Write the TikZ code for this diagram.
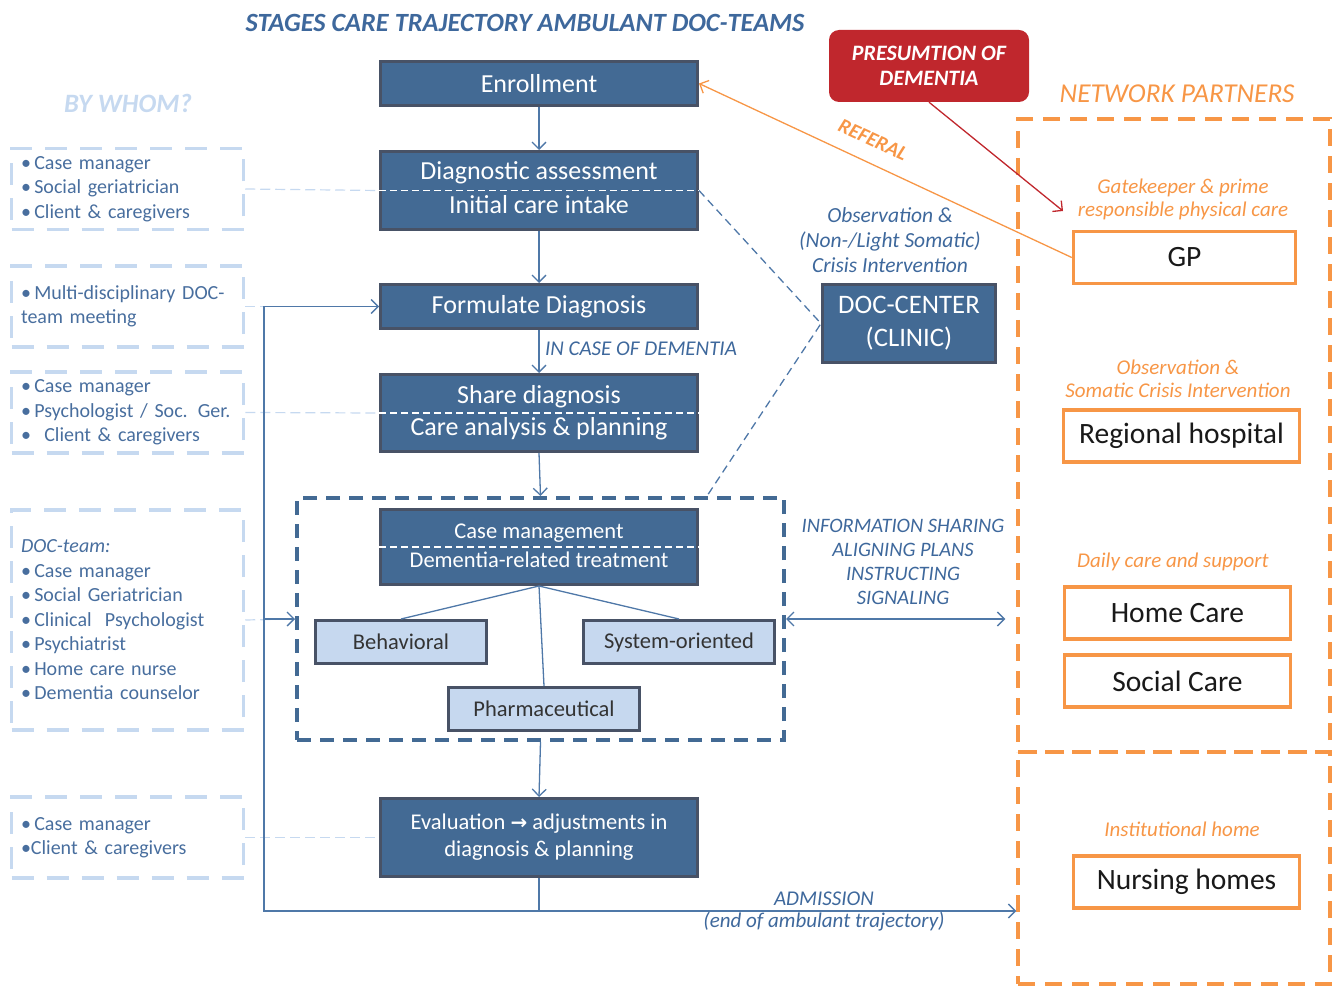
\documentclass[tikz,border=0pt]{standalone}
\usepackage{fontspec}
\setmainfont{Carlito}
\newfontfamily\symfont{DejaVu Sans}
\usetikzlibrary{arrows.meta,calc}
\definecolor{stageblue}{RGB}{67,106,148}
\definecolor{bordergray}{RGB}{72,82,102}
\definecolor{lineblue}{RGB}{79,120,168}
\definecolor{textblue}{RGB}{62,104,156}
\definecolor{leftblue}{RGB}{72,110,158}
\definecolor{paleblue}{RGB}{198,217,240}
\definecolor{subblue}{RGB}{198,216,239}
\definecolor{orng}{RGB}{247,150,70}
\definecolor{redbox}{RGB}{192,39,45}
\begin{document}
\begin{tikzpicture}[x=1pt,y=-1pt,
  stage/.style={draw=bordergray,line width=3pt,fill=stageblue,text=white,minimum width=317pt,inner sep=0pt,font=\fontsize{26}{31}\selectfont},
  stagetxt/.style={text=white,inner sep=0pt,font=\fontsize{26}{31}\selectfont},
  subbox/.style={draw=bordergray,line width=3pt,fill=subblue,text=black!80,inner sep=0pt,minimum height=43pt,font=\fontsize{22.5}{26}\selectfont},
  whom/.style={draw=paleblue,line width=3.5pt,dash pattern=on 22pt off 13pt,text=leftblue,align=left,text width=213pt,inner sep=0pt,minimum width=232pt,font=\fontsize{20}{24.5}\selectfont},
  partner/.style={draw=orng,line width=3.5pt,fill=white,text=black!90,minimum height=52pt,inner sep=0pt,font=\fontsize{29.5}{33}\selectfont},
  olabel/.style={text=orng,inner sep=0pt,font=\itshape\fontsize{21}{23.5}\selectfont,align=center},
  blabel/.style={text=textblue,inner sep=0pt,font=\itshape\fontsize{21}{24.5}\selectfont,align=center},
  conn/.style={draw=lineblue,line width=1.3pt},
  arr/.style={conn,-{Straight Barb[length=7pt,width=14pt]}},
  innerdash/.style={draw=white,line width=1.2pt,dash pattern=on 7pt off 4pt},
  lightdash/.style={draw=paleblue,line width=1.2pt,dash pattern=on 10pt off 5pt},
]
\useasboundingbox (0,0) rectangle (1334,987);

% titles
\node[text=textblue,font=\bfseries\itshape\fontsize{26.3}{30}\selectfont] (title) at (525,23) {STAGES CARE TRAJECTORY AMBULANT DOC-TEAMS};
\node[text=paleblue,font=\bfseries\itshape\fontsize{26.5}{30}\selectfont] (bywhom) at (128,103) {BY WHOM?};
\node[text=orng,font=\itshape\fontsize{27.3}{30}\selectfont] (netpart) at (1177,94) {NETWORK PARTNERS};

% left "by whom" boxes
\node[whom,minimum height=81pt] (w1) at (127.5,189) {•\,Case manager\\•\,Social geriatrician\\•\,Client \& caregivers};
\node[whom,minimum height=81pt] (w2) at (127.5,306.5) {•\,Multi-disciplinary DOC-\\team meeting};
\node[whom,minimum height=81pt] (w3) at (127.5,412.5) {•\,Case manager\\•\,Psychologist / Soc. Ger.\\•\ \ Client \& caregivers};
\node[whom,minimum height=220pt] (w4) at (127.5,620) {\textit{DOC-team:}\\•\,Case manager\\•\,Social Geriatrician\\•\,Clinical\ \ Psychologist\\•\,Psychiatrist\\•\,Home care nurse\\•\,Dementia counselor};
\node[whom,minimum height=81pt] (w5) at (127.5,837.5) {•\,Case manager\\•Client \& caregivers};

% stage boxes
\node[stage,minimum height=44pt] (enroll) at (539,83.5) {Enrollment};
\node[stage,minimum height=78pt] (diag) at (539,190.5) {};
\node[stage,minimum height=44pt] (form) at (539,306.5) {Formulate Diagnosis};
\node[stage,minimum height=77pt] (share) at (539,413) {};
\node[stage,minimum height=78pt] (evalb) at (539,837.5) {};

% outer dashed treatment box
\node[draw=stageblue,line width=4pt,dash pattern=on 14pt off 9pt,minimum width=487pt,minimum height=242pt,inner sep=0pt] (dbox) at (540.5,619) {};
\node[stage,minimum height=75pt] (cm) at (539,547) {};
\node[subbox,minimum width=171pt] (behav) at (401,642) {Behavioral};
\node[subbox,minimum width=191pt] (syst) at (679,642) {System-oriented};
\node[subbox,minimum width=191pt] (pharm) at (544,709) {Pharmaceutical};

% split lines and texts
\draw[innerdash] (diag.west) -- (diag.east);
\node[stagetxt] (diagA) at (539,173) {Diagnostic assessment};
\node[stagetxt] (diagB) at (539,205) {Initial care intake};
\draw[innerdash] (share.west) -- (share.east);
\node[stagetxt] (shareA) at (539,397) {Share diagnosis};
\node[stagetxt] (shareB) at (539,429) {Care analysis \& planning};
\draw[innerdash] (cm.west) -- (cm.east);
\node[stagetxt,font=\fontsize{22.5}{26}\selectfont] (cmA) at (539,533) {Case management};
\node[stagetxt,font=\fontsize{22.5}{26}\selectfont] (cmB) at (539,560) {Dementia-related treatment};
\node[stagetxt,font=\fontsize{22.5}{27}\selectfont,align=center] (evalt) at (539,837.5) {Evaluation {\symfont\bfseries\fontsize{20}{24}\selectfont →} adjustments in\\diagnosis \& planning};

% DOC-center
\node[stage,minimum width=173pt,minimum height=78pt,align=center,font=\fontsize{26.7}{33}\selectfont] (doc) at (909,323.5) {DOC-CENTER\\(CLINIC)};
\node[blabel,font=\itshape\fontsize{21.5}{25}\selectfont] (obs) at (890,240) {Observation \&\\(Non-/Light Somatic)\\Crisis Intervention};

% presumption
\node[fill=redbox,rounded corners=10pt,minimum width=200pt,minimum height=72pt,inner sep=0pt,text=white,align=center,font=\bfseries\itshape\fontsize{22}{25}\selectfont] (presum) at (929,66) {PRESUMTION OF\\DEMENTIA};

% network partners
\node[draw=orng,line width=3.5pt,dash pattern=on 17pt off 10pt,minimum width=312pt,minimum height=633pt,inner sep=0pt] (netup) at (1174,435.5) {};
\node[draw=orng,line width=3.5pt,dash pattern=on 17pt off 10pt,minimum width=312pt,minimum height=232pt,inner sep=0pt] (netlow) at (1174,868) {};
\node[olabel] (gate) at (1183,199.5) {Gatekeeper \& prime\\responsible physical care};
\node[partner,minimum width=222pt] (gp) at (1184.5,257.5) {GP};
\node[olabel] (obs2) at (1178,379) {Observation \&\\Somatic Crisis Intervention};
\node[partner,minimum width=236pt] (hosp) at (1181.5,436) {Regional hospital};
\node[olabel] (daily) at (1173,562) {Daily care and support};
\node[partner,minimum width=226pt] (home) at (1177.5,613) {Home Care};
\node[partner,minimum width=226pt] (social) at (1177.5,681) {Social Care};
\node[olabel] (inst) at (1182,829) {Institutional home};
\node[partner,minimum width=226pt] (nurs) at (1186.5,882) {Nursing homes};

% light dashed links from left boxes
\draw[lightdash] (w1.east) -- (diag.west);
\draw[lightdash] (w2.east) -- (form.west);
\draw[lightdash] (w3.east) -- (share.west);
\draw[lightdash] (w4.east) -- (dbox.west);
\draw[lightdash] (w5.east) -- (evalb.west);

% main flow
\draw[arr] (enroll.south) -- (diag.north);
\draw[arr] (diag.south) -- (form.north);
\draw[arr] (form.south) -- (share.north);
\node[blabel] (incase) at (641,349) {IN CASE OF DEMENTIA};
\draw[arr] (share.south) -- (dbox.north);
\draw[arr] (dbox.south) -- (evalb.north);
\draw[conn] (cm.south) -- (behav.north);
\draw[conn] (cm.south) -- (syst.north);
\draw[conn] (cm.south) -- (pharm.north);

% feedback loop
\coordinate (loopbl) at (264,911);
\coordinate (loopj) at (540,911);
\draw[arr] (evalb.south) |- (loopbl) |- (form.west);
\draw[arr] (loopbl |- dbox.west) -- (dbox.west);
\draw[arr] (loopj) -- (loopj -| netlow.west);
\node[blabel] (adm) at (824,899) {ADMISSION};
\node[blabel] (adm2) at (824,922) {(end of ambulant trajectory)};

% doc-center dashed links
\coordinate (dbjoin) at (707,496);
\draw[conn,dash pattern=on 8pt off 5pt] (diag.east) -- (doc.west) -- (dbjoin);

% info sharing
\draw[conn,{Straight Barb[length=7pt,width=14pt]}-{Straight Barb[length=7pt,width=14pt]}] (dbox.east) -- ($(dbox.east -| netup.west)+(-11,0)$);
\node[blabel,font=\itshape\fontsize{20.5}{24}\selectfont] (info) at (903,562) {INFORMATION SHARING\\ALIGNING PLANS\\INSTRUCTING\\SIGNALING};

% referral and presumption arrows
\draw[draw=orng,line width=1.3pt,-{Straight Barb[length=7pt,width=14pt]}] (gp.west) -- (enroll.east);
\node[text=orng,rotate=-25,inner sep=0pt,font=\bfseries\itshape\fontsize{20.5}{22}\selectfont] (refl) at (873,140) {REFERAL};
\coordinate (redend) at (1063,211);
\draw[draw=redbox,line width=1.3pt,-{Straight Barb[length=7pt,width=14pt]}] (presum.south) -- (redend);
\end{tikzpicture}
\end{document}
